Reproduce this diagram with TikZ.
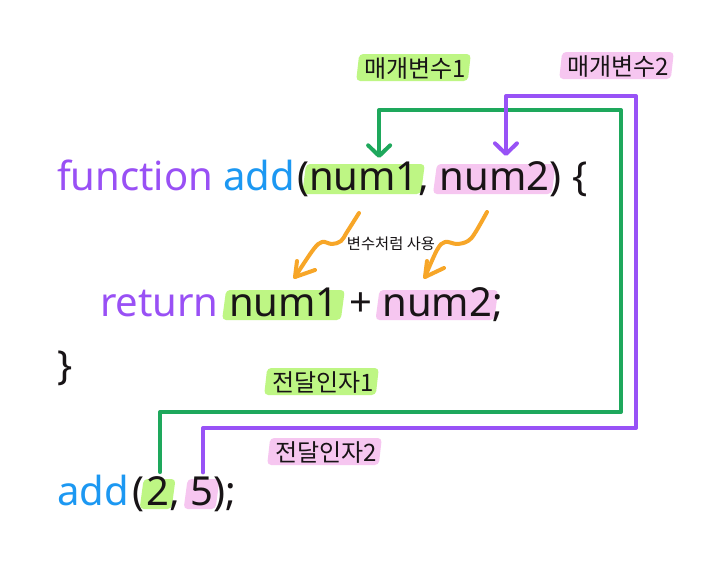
\documentclass[tikz,border=0pt]{standalone}
\usepackage{fontspec}
\setmainfont{Noto Sans}
\newfontfamily\kr{Noto Sans CJK KR}
\usetikzlibrary{arrows.meta,calc}
\pgfdeclarelayer{bg}
\pgfsetlayers{bg,main}
\definecolor{fnpurple}{RGB}{153,80,245}
\definecolor{addblue}{RGB}{28,152,242}
\definecolor{ink}{RGB}{24,20,22}
\definecolor{hlgreen}{RGB}{190,246,132}
\definecolor{hlpink}{RGB}{246,198,240}
\definecolor{lgreen}{RGB}{30,168,92}
\definecolor{lpurple}{RGB}{152,82,246}
\definecolor{orng}{RGB}{247,166,40}
\newcommand\csp{\ \null}
\tikzset{
  code/.style={inner sep=0pt, outer sep=0pt, anchor=base west, text=ink, font=\fontsize{30}{32}\selectfont},
  kw/.style={code, text=fnpurple},
  fnname/.style={code, text=addblue},
  lbl/.style={inner sep=0pt, outer sep=0pt, anchor=base, text=ink, font=\kr\fontsize{18}{20}\selectfont},
  note/.style={inner sep=0pt, outer sep=0pt, anchor=base, text=ink, font=\kr\fontsize{11.5}{13}\selectfont},
  gline/.style={draw=lgreen, line width=3pt, line cap=round, line join=round},
  pline/.style={draw=lpurple, line width=3pt, line cap=round, line join=round},
  oline/.style={draw=orng, line width=3pt, line cap=round, line join=round},
  tipbarb/.style={-{Straight Barb[length=8pt, width=16.5pt, line cap=round, line join=round]}},
}
% highlight behind a code node: #1 colour, #2 node
\newcommand\hlcode[2]{%
  \begin{pgfonlayer}{bg}
  \fill[#1, rounded corners=3pt]
    ($(#2.base west)+(-7,4)$) -- ($(#2.base west)+(-3,-26)$) --
    ($(#2.base east)+(6,-26)$) -- ($(#2.base east)+(2,4)$) -- cycle;
  \end{pgfonlayer}}
% highlight behind a label node
\newcommand\hllabel[2]{%
  \begin{pgfonlayer}{bg}
  \fill[#1, rounded corners=3pt]
    ($(#2.base west)+(-8,4)$) -- ($(#2.base west)+(-5,-23)$) --
    ($(#2.base east)+(5,-23)$) -- ($(#2.base east)+(2,4)$) -- cycle;
  \end{pgfonlayer}}
\begin{document}
\begin{tikzpicture}[x=0.75pt, y=-0.75pt]
\begin{pgfonlayer}{bg}
\fill[white] (0,0) rectangle (724,564);
\end{pgfonlayer}
\useasboundingbox (0,0) rectangle (724,564);

% line 1
\node[kw] (fn) at (57,190) {function\csp};
\node[fnname] (addA) at (fn.base east) {add};
\node[code] (lpA) at ($(addA.base east)+(2,0)$) {(};
\node[code] (n1a) at (lpA.base east) {num1};
\node[code] (cmA) at (n1a.base east) {,\csp};
\node[code] (n2a) at (cmA.base east) {num2};
\node[code] (rpA) at (n2a.base east) {)\ \{};
\hlcode{hlgreen}{n1a}
\hlcode{hlpink}{n2a}

% line 2
\node[kw] (ret) at (100,316) {return\csp};
\node[code] (n1b) at (ret.base east) {num1};
\node[code] (plus) at (n1b.base east) {\null\ +\csp};
\node[code] (n2b) at (plus.base east) {num2};
\node[code] (sc) at (n2b.base east) {;};
\hlcode{hlgreen}{n1b}
\hlcode{hlpink}{n2b}

% closing brace
\node[code] (rb) at (57,379) {\}};

% call line
\node[fnname] (addB) at (57,505) {add};
\node[code] (lpB) at ($(addB.base east)+(4,0)$) {(};
\node[code] (two) at ($(lpB.base east)+(2,0)$) {2};
\node[code] (cmB) at (two.base east) {,\csp};
\node[code] (five) at (cmB.base east) {5};
\node[code] (rpB) at (five.base east) {);};
\hlcode{hlgreen}{two}
\hlcode{hlpink}{five}

% labels
\node[lbl] (p1) at (415,77) {매개변수1};
\node[lbl] (p2) at (618,75) {매개변수2};
\node[lbl] (a1) at (323,391) {전달인자1};
\node[lbl] (a2) at (326,461) {전달인자2};
\hllabel{hlgreen}{p1}
\hllabel{hlpink}{p2}
\hllabel{hlgreen}{a1}
\hllabel{hlpink}{a2}
\node[note] (use) at (391,249) {변수처럼 사용};

% connectors
\coordinate (g0) at ($(two.north)+(2,-4)$);
\coordinate (gt) at ($(n1a.base west)+(70,-32)$);
\draw[gline, tipbarb] (g0) |- (621,412) |- (gt |- 0,110) -- (gt);
\coordinate (p0) at ($(five.north)+(1,-4)$);
\coordinate (pt) at ($(n2a.base west)+(66,-34)$);
\draw[pline, tipbarb] (p0) |- (636,428) |- (pt |- 0,96) -- (pt);

% orange squiggles
\coordinate (o1s) at (359,213);
\coordinate (o1e) at (295,277);
\draw[oline] plot[smooth, tension=0.6] coordinates {(o1s) (347,232) (341,241) (332,244) (322,242) (313,250) (o1e)};
\draw[oline] (297,261) -- (o1e) -- (315,270);
\coordinate (o2s) at (487,212);
\coordinate (o2e) at (425,277);
\draw[oline] plot[smooth, tension=0.6] coordinates {(o2s) (475,233) (468,241) (457,244) (445,242) (437,250) (o2e)};
\draw[oline] (427,261) -- (o2e) -- (444,268);
\end{tikzpicture}
\end{document}
